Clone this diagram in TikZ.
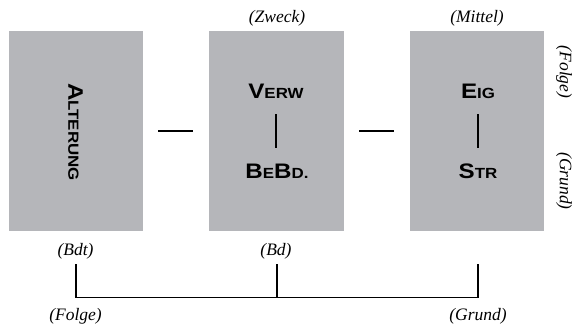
\documentclass[tikz,border=0pt]{standalone}
\usepackage{fontspec}
\setmainfont{Liberation Serif}
\newfontfamily\hvfont{Liberation Sans}
\definecolor{boxgray}{RGB}{181,182,186}
% bold sans small caps: large initial, smaller remaining capitals
\newcommand{\capword}[2]{\scalebox{1.15}[1]{\hvfont\bfseries
  {\fontsize{21}{21}\selectfont #1}{\fontsize{14.7}{14.7}\selectfont #2}}}
\newcommand{\capwordtwo}[4]{\scalebox{1.15}[1]{\hvfont\bfseries
  {\fontsize{21}{21}\selectfont #1}{\fontsize{14.7}{14.7}\selectfont #2}%
  {\fontsize{21}{21}\selectfont #3}{\fontsize{14.7}{14.7}\selectfont #4}}}
\begin{document}
\begin{tikzpicture}[x=1pt,y=-1pt,
  block/.style={fill=boxgray,draw=none,minimum width=134pt,minimum height=200pt,inner sep=0pt},
  word/.style={inner sep=0pt,anchor=base},
  tag/.style={inner sep=0pt,font=\fontsize{17.5}{17.5}\selectfont\itshape},
  link/.style={line width=1.2pt,black}]
\useasboundingbox (0,0) rectangle (575,327);
\fill[white] (0,0) rectangle (575,327);

% the three blocks
\node[block] (b1) at (76,131) {};
\node[block,minimum width=135pt] (b2) at (276.5,131) {};
\node[block] (b3) at (477,131) {};

% block contents
\node[inner sep=0pt,rotate=-90] (alt) at (75.5,132) {\capword{A}{LTERUNG}};
\node[word] (verw) at (276,98) {\capword{V}{ERW}};
\node[word] (bebd) at (277,178) {\capwordtwo{B}{E}{B}{D.}};
\node[word] (eig) at (478,98) {\capword{E}{IG}};
\node[word] (str) at (478,178) {\capword{S}{TR}};

\draw[link] (276,114) -- (276,148);
\draw[link] (478,114) -- (478,148);

% dashes between the blocks
\draw[link] ([xshift=15pt]b1.east |- 0,131) -- ([xshift=-16pt]b2.west |- 0,131);
\draw[link] ([xshift=15pt]b2.east |- 0,131) -- ([xshift=-16pt]b3.west |- 0,131);

% labels above and beside
\node[tag,anchor=base] (zweck) at (277,22) {(Zweck)};
\node[tag,anchor=base] (mittel) at (477,22) {(Mittel)};
\node[tag,rotate=-90] (folgeR) at (564,72) {(Folge)};
\node[tag,rotate=-90] (grundR) at (564,181) {(Grund)};

% labels below and the bracket joining them
\node[tag,anchor=base] (bdt) at (75.5,255) {(Bdt)};
\node[tag,anchor=base] (bd) at (276,255) {(Bd)};
\coordinate (rtop) at (478,264);
\coordinate (bl) at (76,297.5);
\coordinate (bm) at (277,297.5);
\coordinate (br) at (478,297.5);
\draw[link] (76,264) -- (bl) -- (br) -- (rtop);
\draw[link] (277,264) -- (bm);
\node[tag,anchor=base] (folgeB) at (75.5,320) {(Folge)};
\node[tag,anchor=base] (grundB) at (478,320) {(Grund)};
\end{tikzpicture}
\end{document}
